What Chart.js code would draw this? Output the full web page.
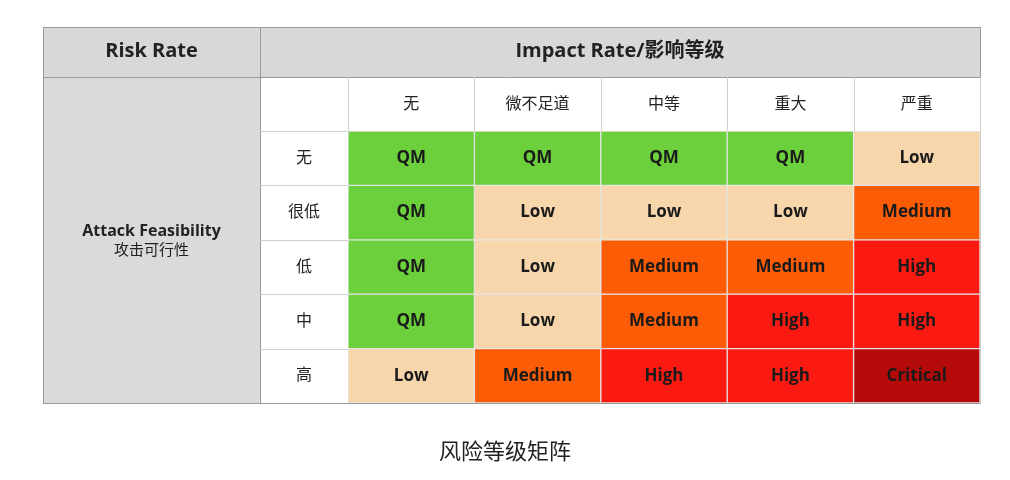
<!DOCTYPE html>
<html lang="zh">
<head>
<meta charset="UTF-8">
<title>风险等级矩阵</title>
<style>
  html, body { margin: 0; padding: 0; background: #fff; }
  #wrap { width: 1010px; height: 480px; }
</style>
<script src="https://cdn.jsdelivr.net/npm/chart.js@4.4.0/dist/chart.umd.min.js"></script>
</head>
<body>
<div id="wrap"><canvas id="matrix"></canvas></div>
<script>
const impactLevels = ['无', '微不足道', '中等', '重大', '严重'];
const feasibilityLevels = ['无', '很低', '低', '中', '高'];
const riskRows = [
  ['QM', 'QM', 'QM', 'QM', 'Low'],
  ['QM', 'Low', 'Low', 'Low', 'Medium'],
  ['QM', 'Low', 'Medium', 'Medium', 'High'],
  ['QM', 'Low', 'Medium', 'High', 'High'],
  ['Low', 'Medium', 'High', 'High', 'Critical']
];
const riskColors = {
  QM: '#6ccf3c',
  Low: '#f8d6ac',
  Medium: '#fb5c05',
  High: '#fb1a12',
  Critical: '#b50a0a'
};

const FONT = '"Open Sans", "Noto Sans CJK SC", sans-serif';

const datasets = feasibilityLevels.map((f, r) => ({
  label: f,
  data: impactLevels.map(() => 1),
  backgroundColor: riskRows[r].map(v => riskColors[v]),
  borderColor: '#e4e4e4',
  borderWidth: 1,
  borderSkipped: false,
  barPercentage: 1,
  categoryPercentage: 1
}));

const tablePlugin = {
  id: 'tablePlugin',
  beforeDraw(chart) {
    const ctx = chart.ctx;
    const a = chart.chartArea;
    const x = chart.scales.x;
    const left = 43, right = a.right, top = 27, bottom = a.bottom;
    const headBottom = 77, labelCol = 260;
    ctx.save();
    ctx.fillStyle = '#d8d8d8';
    ctx.fillRect(left, top, right - left, headBottom - top);
    ctx.fillStyle = '#dadada';
    ctx.fillRect(left, headBottom, labelCol - left, bottom - headBottom);
    ctx.strokeStyle = '#9a9a9a';
    ctx.lineWidth = 1;
    ctx.strokeRect(left + 0.5, top + 0.5, right - left, bottom - top);
    ctx.beginPath();
    ctx.moveTo(left, headBottom + 0.5); ctx.lineTo(right, headBottom + 0.5);
    ctx.moveTo(labelCol + 0.5, top); ctx.lineTo(labelCol + 0.5, bottom);
    ctx.stroke();
    // inner header grid
    ctx.strokeStyle = '#cfcfcf';
    ctx.beginPath();
    ctx.moveTo(labelCol, a.top + 0.5); ctx.lineTo(right, a.top + 0.5);
    const w = (a.right - a.left) / impactLevels.length;
    for (let i = 0; i <= impactLevels.length; i++) {
      const px = Math.round(a.left + i * w) + 0.5;
      ctx.moveTo(px, headBottom); ctx.lineTo(px, bottom);
    }
    const h = (a.bottom - a.top) / feasibilityLevels.length;
    for (let r = 1; r < feasibilityLevels.length; r++) {
      const py = Math.round(a.top + r * h) + 0.5;
      ctx.moveTo(labelCol, py); ctx.lineTo(a.left, py);
    }
    ctx.stroke();
    ctx.fillStyle = '#222';
    ctx.textAlign = 'center';
    ctx.textBaseline = 'middle';
    ctx.font = 'bold 20px ' + FONT;
    ctx.fillText('Risk Rate', (left + labelCol) / 2, 51);
    ctx.fillText('Impact Rate/影响等级', (labelCol + right) / 2, 51);
    ctx.font = 'bold 16px ' + FONT;
    ctx.fillText('Attack Feasibility', (left + labelCol) / 2, 231);
    ctx.font = '15px ' + FONT;
    ctx.fillText('攻击可行性', (left + labelCol) / 2, 251);
    ctx.font = '16px ' + FONT;
    impactLevels.forEach((lab, i) => {
      ctx.fillText(lab, x.getPixelForValue(i), (headBottom + a.top) / 2);
    });
    feasibilityLevels.forEach((lab, r) => {
      ctx.fillText(lab, (labelCol + a.left) / 2, chart.scales.y.getPixelForValue(r + 0.5));
    });
    ctx.font = '22px ' + FONT;
    ctx.fillText('风险等级矩阵', 505, 453);
    ctx.restore();
  },
  afterDatasetsDraw(chart) {
    const ctx = chart.ctx;
    ctx.save();
    ctx.textAlign = 'center';
    ctx.textBaseline = 'middle';
    ctx.font = 'bold 17px ' + FONT;
    chart.data.datasets.forEach((ds, r) => {
      chart.getDatasetMeta(r).data.forEach((bar, c) => {
        const p = bar.getCenterPoint();
        ctx.fillStyle = '#1a1a1a';
        ctx.fillText(riskRows[r][c], p.x, p.y);
      });
    });
    ctx.restore();
  }
};

new Chart(document.getElementById('matrix'), {
  type: 'bar',
  data: { labels: impactLevels, datasets: datasets },
  options: {
    responsive: true,
    maintainAspectRatio: false,
    animation: false,
    layout: { padding: { left: 348, right: 30, top: 131, bottom: 77 } },
    scales: {
      x: { stacked: true, display: false, offset: true },
      y: { stacked: true, display: false, reverse: true, min: 0, max: feasibilityLevels.length }
    },
    plugins: { legend: { display: false }, tooltip: { enabled: false } }
  },
  plugins: [tablePlugin]
});
</script>
</body>
</html>
